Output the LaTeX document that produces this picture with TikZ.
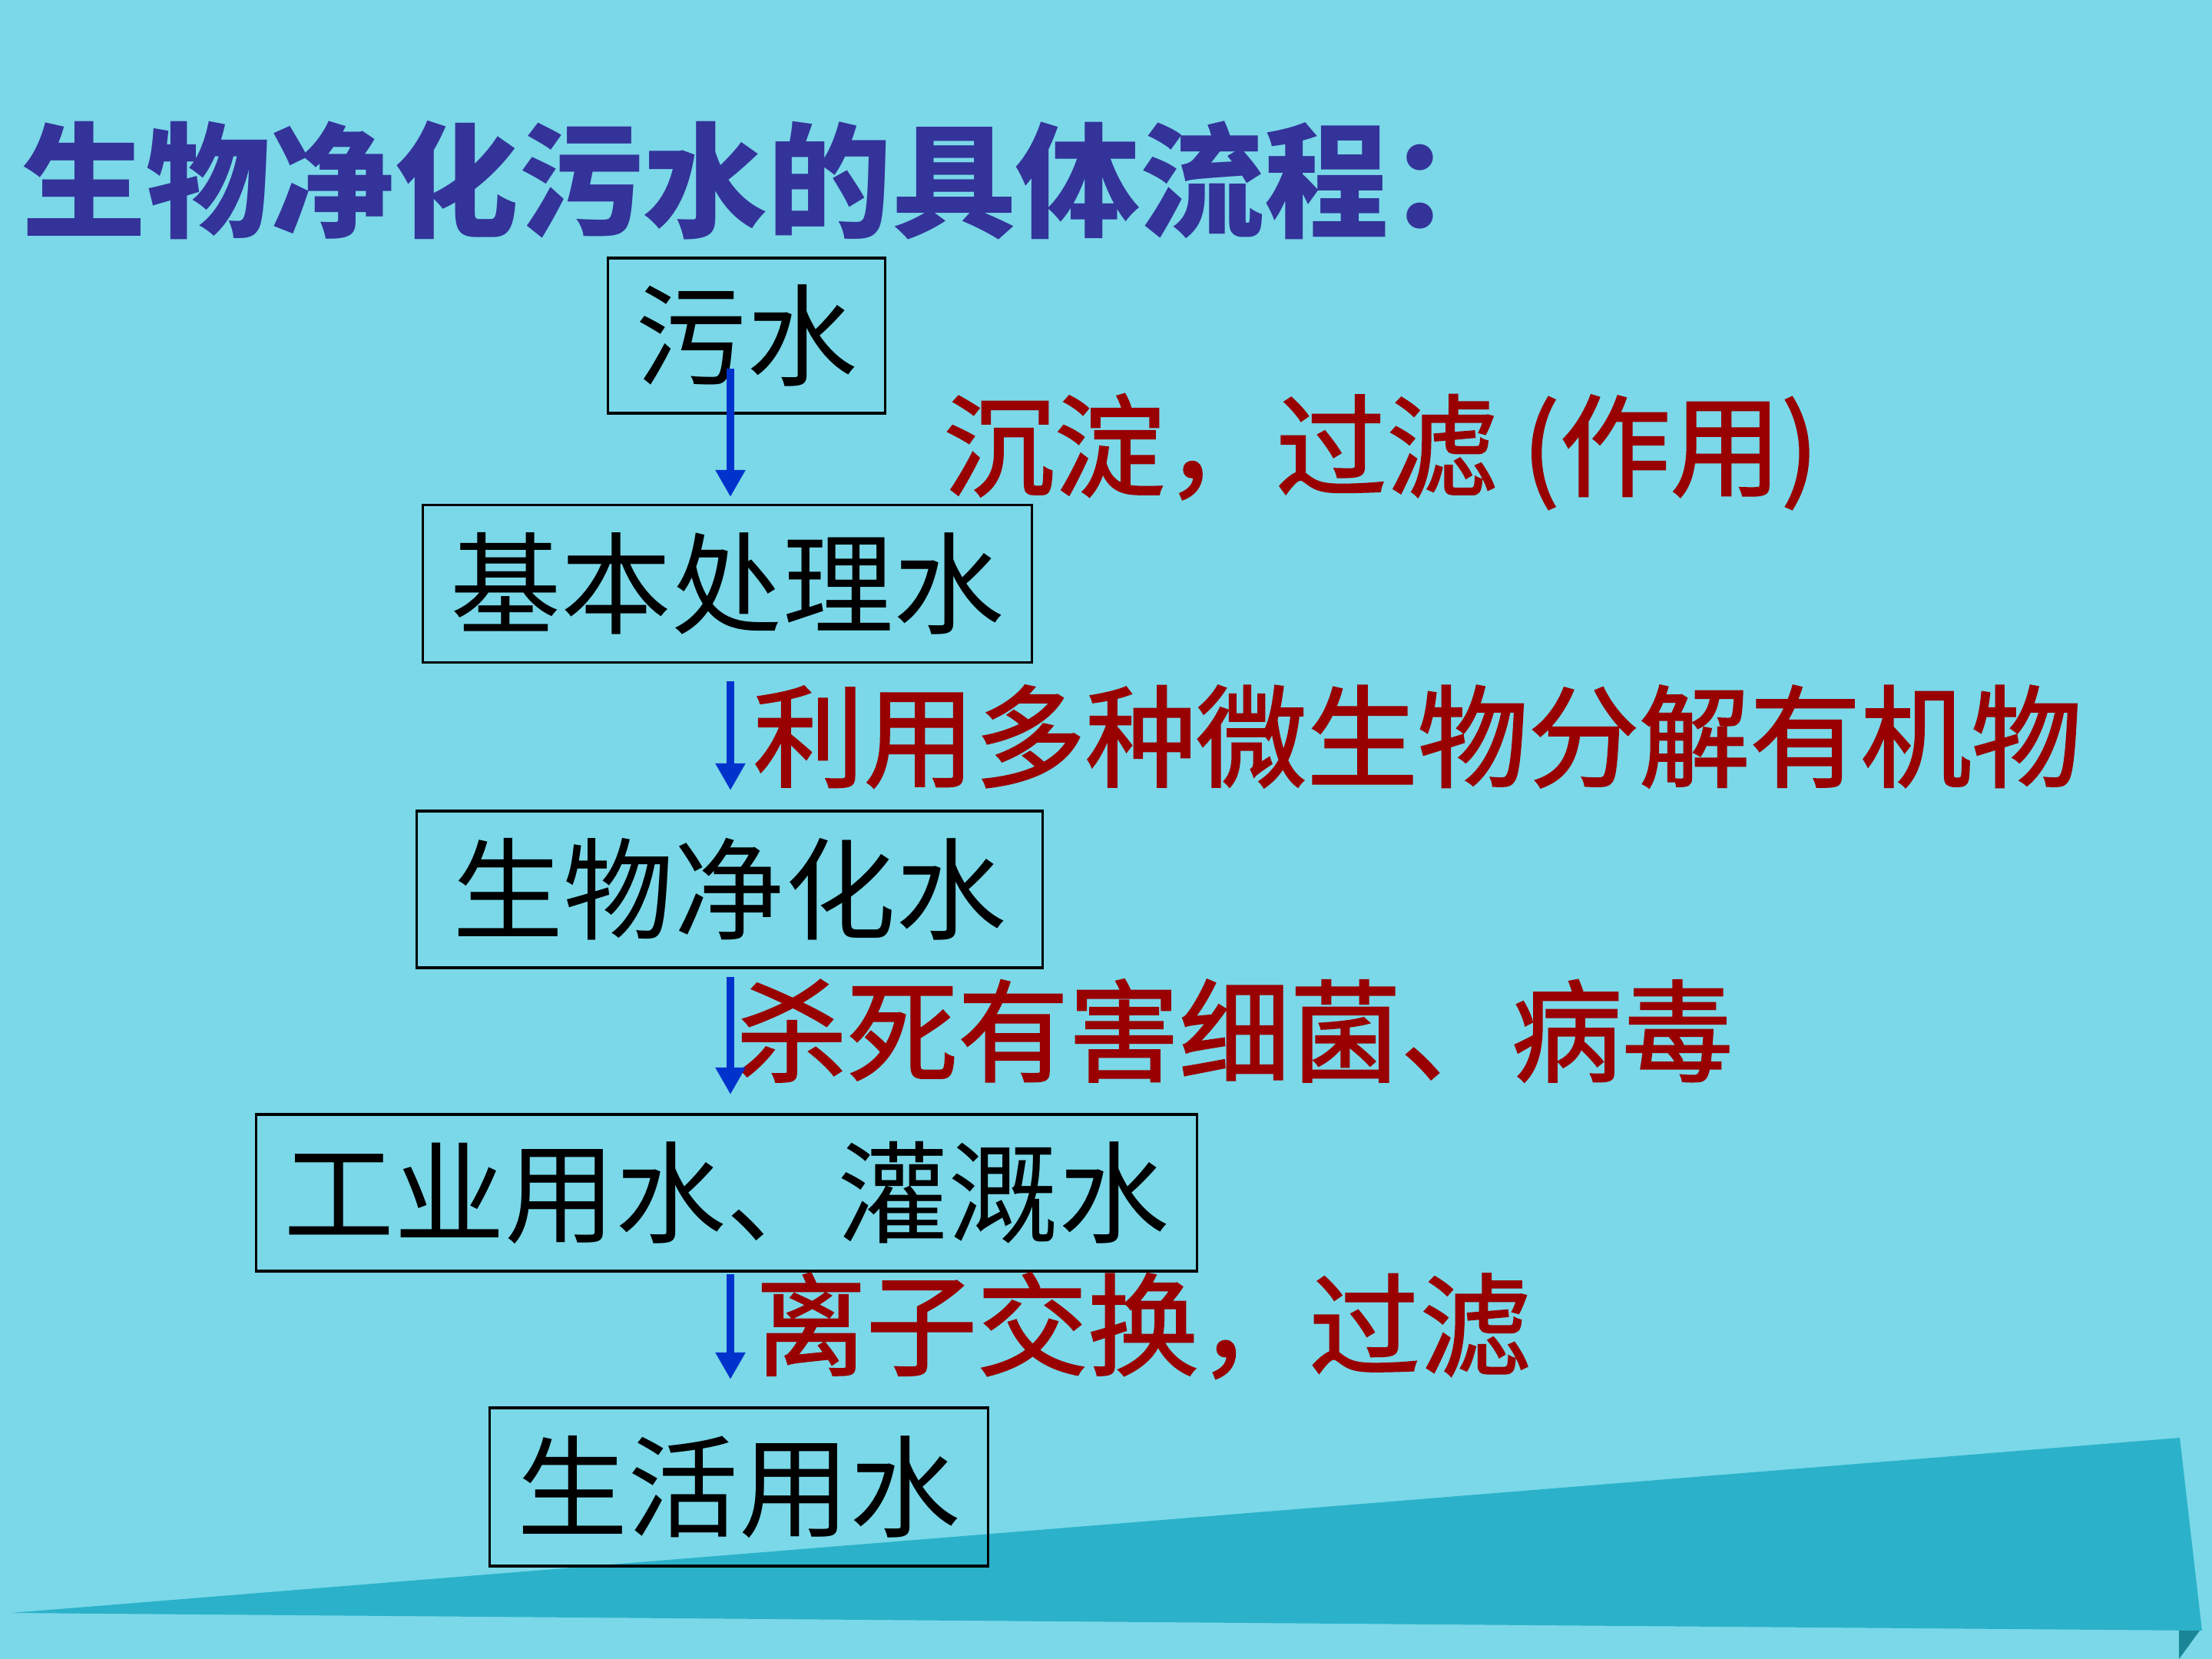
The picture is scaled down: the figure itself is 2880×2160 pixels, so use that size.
\documentclass[tikz,border=0pt]{standalone}
\usepackage{fontspec}
\usetikzlibrary{arrows.meta}
\newfontfamily\cjk{Noto Sans CJK SC}
\newfontfamily\cjkmed[FakeBold=1.6]{Noto Sans CJK SC}
\definecolor{bgc}{HTML}{7AD8E8}
\definecolor{wedgec}{HTML}{2BB2CA}
\definecolor{foldc}{HTML}{1A8596}
\definecolor{titlec}{HTML}{333399}
\definecolor{redc}{HTML}{990000}
\definecolor{arrc}{HTML}{0033CC}
\tikzset{
  stagebox/.style={draw=black,line width=0.9pt,inner sep=0pt,font=\cjk\fontsize{41}{49}\selectfont,text=black},
  redlabel/.style={anchor=west,inner sep=0pt,text=redc,font=\cjkmed\fontsize{41}{49}\selectfont},
  flowarrow/.style={draw=arrc,line width=2.8pt,-{Triangle[width=10.5pt,length=10pt]}},
}
\begin{document}
\begin{tikzpicture}[x=0.01cm,y=-0.01cm]
\fill[bgc] (0,0) rectangle (2880,2160);
% decorative wedge
\fill[wedgec] (15,2100) -- (2838,1872) -- (2867,2123) -- cycle;
\fill[foldc] (2837,2123) -- (2864,2123) -- (2837,2160) -- cycle;
% title
\node[anchor=west,inner sep=0pt,text=titlec,font=\cjk\bfseries\fontsize{46}{55}\selectfont] (title) at (28,235) {生物净化污水的具体流程：};
% boxes
\node[stagebox,minimum width=3.6cm,minimum height=2.02cm] (b1) at (972,437) {污水\hspace{0.15cm}};
\node[stagebox,minimum width=7.92cm,minimum height=2.05cm] (b2) at (947,760) {基本处理水};
\node[stagebox,minimum width=8.15cm,minimum height=2.04cm] (b3) at (950,1158) {生物净化水\hspace{0.3cm}};
\node[stagebox,minimum width=12.25cm,minimum height=2.04cm] (b4) at (946,1553) {工业用水、灌溉水};
\node[stagebox,minimum width=6.49cm,minimum height=2.06cm] (b5) at (962,1936) {生活用水};
% labels
\node[redlabel] (l1) at (1228,588) {沉淀，过滤 (作用)};
\node[redlabel] (l2) at (980,959) {利用多种微生物分解有机物};
\node[redlabel] (l3) at (958,1342) {杀死有害细菌、病毒};
\node[redlabel] (l4) at (983,1726) {离子交换，过滤};
% arrows
\coordinate (s1) at (951,480);  \coordinate (e1) at (951,647);
\coordinate (s2) at (951,887);  \coordinate (e2) at (951,1029);
\coordinate (s3) at (951,1272); \coordinate (e3) at (951,1425);
\coordinate (s4) at (951,1659); \coordinate (e4) at (951,1796);
\draw[flowarrow] (s1) -- (e1);
\draw[flowarrow] (s2) -- (e2);
\draw[flowarrow] (s3) -- (e3);
\draw[flowarrow] (s4) -- (e4);
\end{tikzpicture}
\end{document}
